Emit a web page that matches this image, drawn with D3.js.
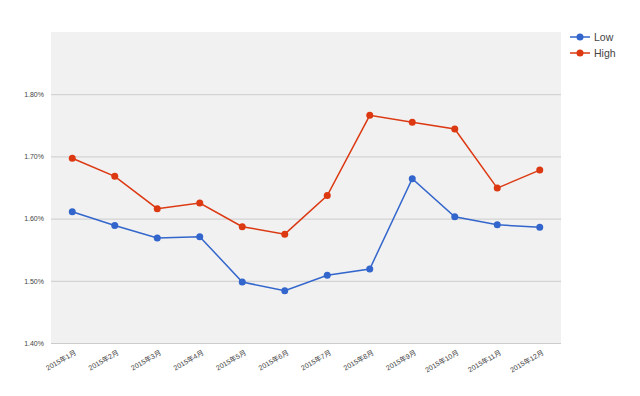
<!DOCTYPE html>
<html>
<head>
<meta charset="utf-8">
<script src="https://cdn.jsdelivr.net/npm/d3@7"></script>
<style>
  body { margin: 0; background: #fff; }
  text { font-family: Arial, "Liberation Sans", "Noto Sans CJK JP", sans-serif; }
</style>
</head>
<body>
<script>
// Chart data
var months = ["2015年1月", "2015年2月", "2015年3月", "2015年4月", "2015年5月", "2015年6月",
  "2015年7月", "2015年8月", "2015年9月", "2015年10月", "2015年11月", "2015年12月"];
var lowValues = [1.611, 1.589, 1.569, 1.571, 1.498, 1.484, 1.509, 1.519, 1.664, 1.603, 1.590, 1.586];
var highValues = [1.697, 1.668, 1.616, 1.625, 1.587, 1.575, 1.637, 1.766, 1.755, 1.744, 1.649, 1.678];
var yTicks = [1.4, 1.5, 1.6, 1.7, 1.8];
var seriesNames = ["Low", "High"];

var svgWidth = 640;
var svgHeight = 396;
var margin = { top: 32, right: 79, bottom: 53, left: 51 };
var chartWidth = svgWidth - margin.left - margin.right;
var chartHeight = svgHeight - margin.top - margin.bottom;

var colors = { Low: "#3366cc", High: "#dc3912" };

var svg = d3.select("body")
  .append("svg")
  .attr("width", svgWidth)
  .attr("height", svgHeight);

var chartGroup = svg.append("g")
  .attr("transform", `translate(${margin.left}, ${margin.top})`);

// scales
var xScale = d3.scalePoint()
  .domain(months)
  .range([0, chartWidth])
  .padding(0.5);

var yScale = d3.scaleLinear()
  .domain([1.4, 1.9])
  .range([chartHeight, 0]);

// plot background
chartGroup.append("rect")
  .attr("width", chartWidth)
  .attr("height", chartHeight)
  .attr("fill", "#f1f1f1");

// gridlines
chartGroup.append("g")
  .attr("class", "grid")
  .call(d3.axisLeft(yScale).tickValues(yTicks).tickSize(-chartWidth).tickFormat(""))
  .call(g => g.select(".domain").remove())
  .call(g => g.selectAll("line").attr("stroke", "#cccccc"));

// y labels
chartGroup.append("g")
  .call(d3.axisLeft(yScale).tickValues(yTicks).tickSize(0).tickPadding(7)
    .tickFormat(d => d.toFixed(2) + "%"))
  .call(g => g.select(".domain").remove())
  .call(g => g.selectAll("text").attr("fill", "#444").style("font-size", "7px"));

// x labels
chartGroup.append("g")
  .attr("transform", `translate(0, ${chartHeight})`)
  .call(d3.axisBottom(xScale).tickSize(0))
  .call(g => g.select(".domain").remove())
  .call(g => g.selectAll("text")
    .attr("fill", "#444")
    .style("font-size", "7px")
    .attr("text-anchor", "end")
    .attr("dy", null)
    .attr("y", 0)
    .attr("transform", "translate(4, 11) rotate(-30)"));

// lines and dots
var series = [
  { name: "Low", values: lowValues },
  { name: "High", values: highValues }
];

var line = d3.line()
  .x((d, i) => xScale(months[i]))
  .y(d => yScale(d));

series.forEach(function(s) {
  chartGroup.append("path")
    .datum(s.values)
    .attr("fill", "none")
    .attr("stroke", colors[s.name])
    .attr("stroke-width", 1.5)
    .attr("d", line);

  chartGroup.selectAll(".dot-" + s.name)
    .data(s.values)
    .enter()
    .append("circle")
    .attr("cx", (d, i) => xScale(months[i]))
    .attr("cy", d => yScale(d))
    .attr("r", 3.5)
    .style("fill", colors[s.name]);
});

// legend
var legend = svg.append("g")
  .attr("transform", "translate(570, 37)");

seriesNames.forEach(function(name, i) {
  var row = legend.append("g").attr("transform", `translate(0, ${i * 16})`);
  row.append("line")
    .attr("x1", 0).attr("x2", 20)
    .attr("stroke", colors[name])
    .attr("stroke-width", 1.5);
  row.append("circle")
    .attr("cx", 10).attr("r", 3.5)
    .style("fill", colors[name]);
  row.append("text")
    .attr("x", 24)
    .attr("dy", "0.35em")
    .attr("fill", "#444")
    .style("font-size", "10.5px")
    .text(name);
});
</script>
</body>
</html>
